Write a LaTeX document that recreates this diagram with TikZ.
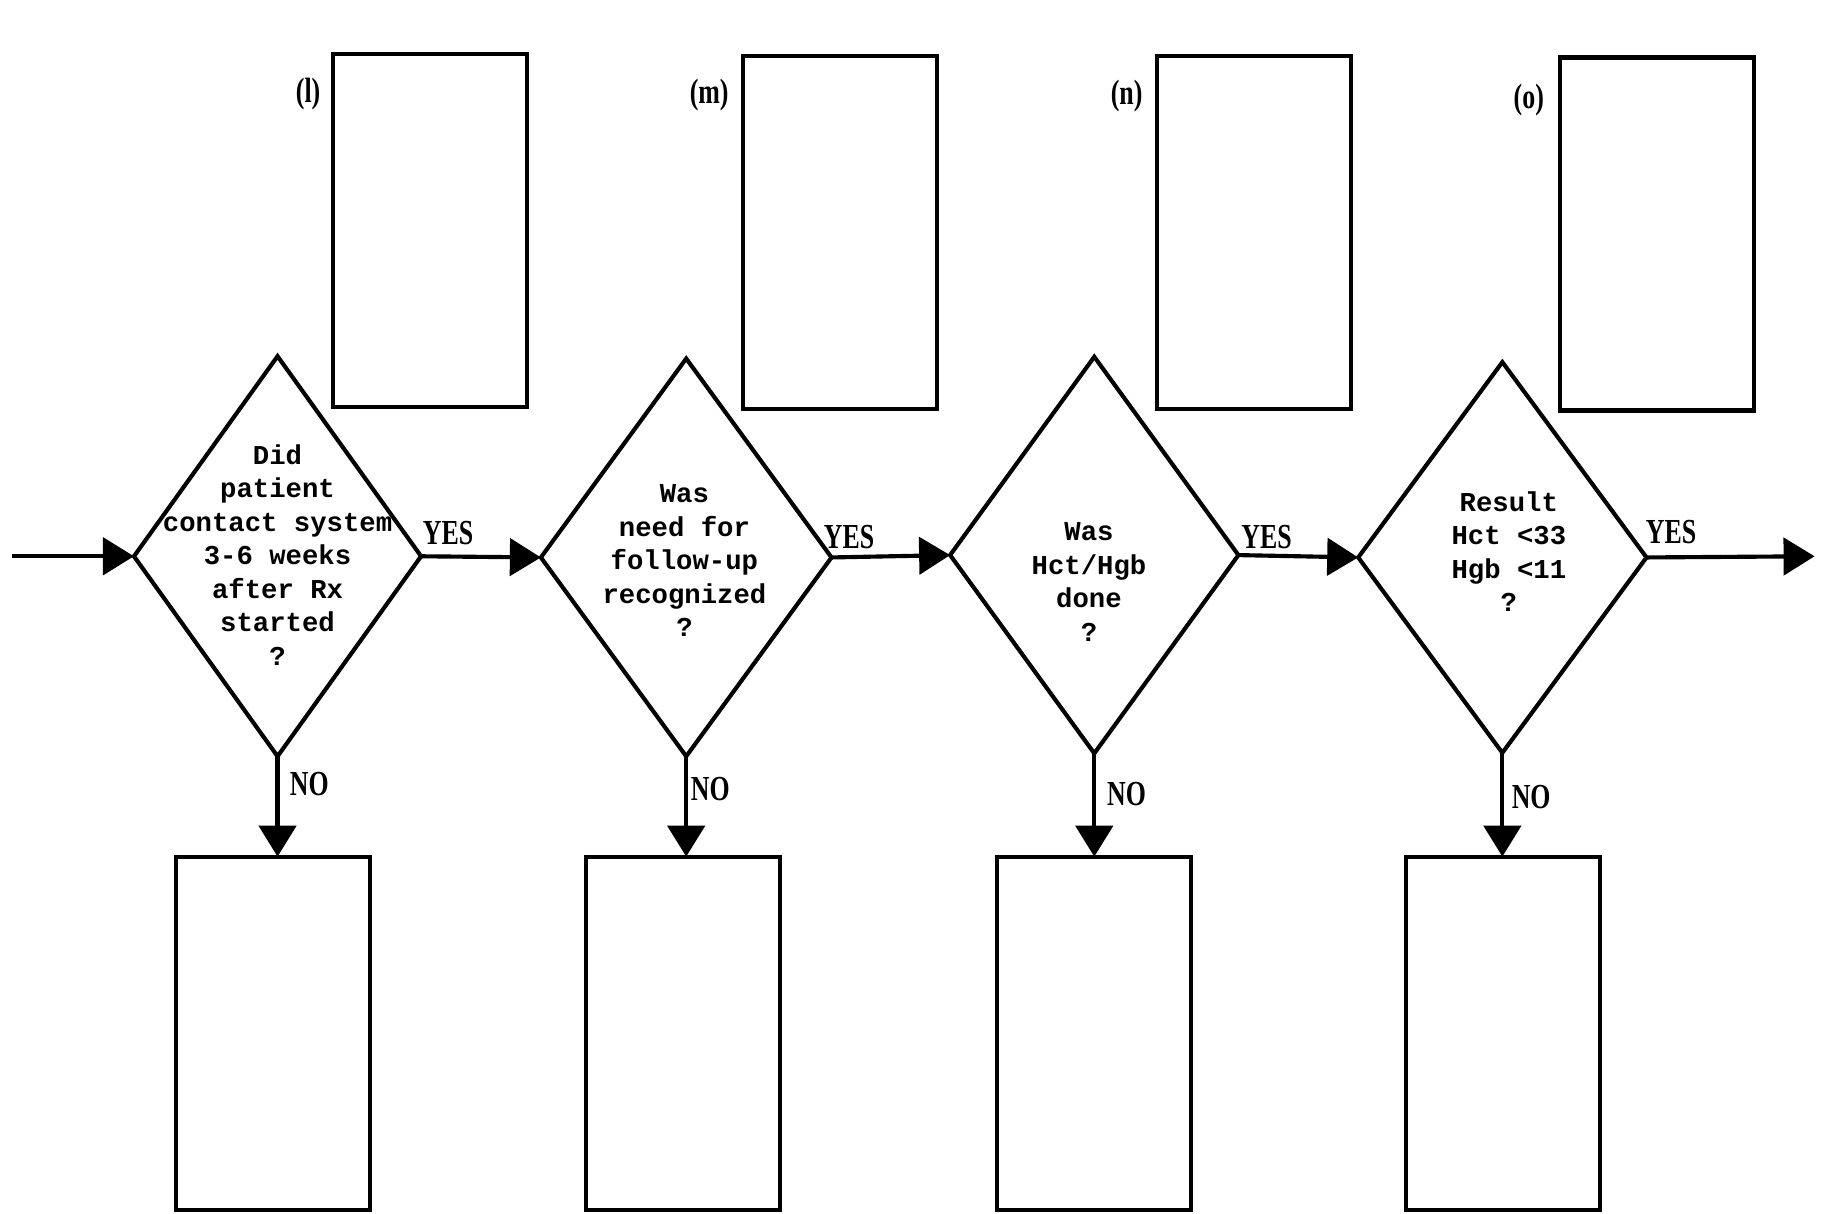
\documentclass[tikz,border=0pt]{standalone}
\usepackage{fontspec}
\usetikzlibrary{shapes.geometric,arrows.meta}
\newfontfamily\twfont{Liberation Mono}
\newfontfamily\lblfont{Liberation Serif}
\newcommand{\tallword}[1]{\scalebox{0.92}[1.25]{#1}}
\begin{document}
\begin{tikzpicture}[x=0.01cm,y=-0.01cm,
  every node/.style={inner sep=0pt, outer sep=0pt},
  box/.style={draw, line width=1pt, minimum width=1.65cm, minimum height=3.0cm},
  dec/.style={draw, diamond, line width=1pt, minimum width=2.44cm},
  qtext/.style={align=center, font=\twfont\bfseries\fontsize{6.6}{8.1}\selectfont},
  tag/.style={font=\lblfont\bfseries\fontsize{6.8}{8}\selectfont},
  flow/.style={line width=1pt, -{Triangle[length=7.5pt, width=9pt]}}
]
\useasboundingbox (0,0) rectangle (1568,1032);

% top boxes
\node[box] (l) at (365.5,196) {};
\node[box] (m) at (714.5,198) {};
\node[box] (n) at (1066.5,198) {};
\node[box] (o) at (1409,199) {};
\node[tag] (ll) at (262,80) {\tallword{(l)}};
\node[tag] (ml) at (603,81) {\tallword{(m)}};
\node[tag] (nl) at (958,82) {\tallword{(n)}};
\node[tag] (ol) at (1300,85) {\tallword{(o)}};

% decisions
\node[dec, minimum height=3.40cm] (d1) at (236,473) {};
\node[dec, minimum height=3.38cm, minimum width=2.47cm] (d2) at (583.5,474) {};
\node[dec, minimum height=3.37cm, minimum width=2.45cm] (d3) at (930.5,472) {};
\node[dec, minimum height=3.32cm, minimum width=2.45cm] (d4) at (1277.5,474) {};

\node[qtext] (t1) at (236,472) {Did\\patient\\contact system\\3-6 weeks\\after Rx\\started\\?};
\node[qtext] (t2) at (582,477) {Was\\need for\\follow-up\\recognized\\?};
\node[qtext] (t3) at (926,495) {Was\\Hct/Hgb\\done\\?};
\node[qtext] (t4) at (1283,469) {Result\\Hct <33\\Hgb <11\\?};

% bottom boxes
\node[box] (b1) at (232,878.5) {};
\node[box] (b2) at (581,878.5) {};
\node[box] (b3) at (930,878.5) {};
\node[box] (b4) at (1278,878.5) {};

% connectors
\coordinate (in) at (10,473);
\coordinate (out) at (1543,473);
\draw[flow] (in) -- (d1.west);
\draw[flow] (d1.east) -- (d2.west);
\draw[flow] (d2.east) -- (d3.west);
\draw[flow] (d3.east) -- (d4.west);
\draw[flow] (d4.east) -- (out);
\draw[flow] (d1.south) -- (d1.south |- b1.north);
\draw[flow] (d2.south) -- (d2.south |- b2.north);
\draw[flow] (d3.south) -- (d3.south |- b3.north);
\draw[flow] (d4.south) -- (d4.south |- b4.north);

% labels
\node[tag] (y1) at (381,453) {\tallword{YES}};
\node[tag] (y2) at (722,457) {\tallword{YES}};
\node[tag] (y3) at (1077,457) {\tallword{YES}};
\node[tag] (y4) at (1421,452) {\tallword{YES}};
\node[tag] (n1) at (263,667) {\tallword{NO}};
\node[tag] (n2) at (604,671) {\tallword{NO}};
\node[tag] (n3) at (958,675) {\tallword{NO}};
\node[tag] (n4) at (1302,678) {\tallword{NO}};
\end{tikzpicture}
\end{document}
